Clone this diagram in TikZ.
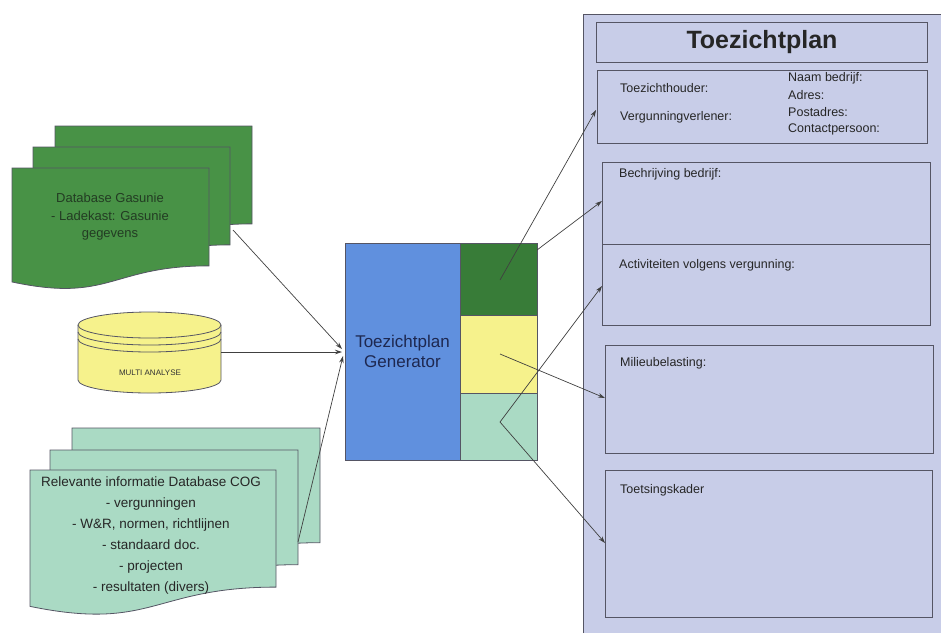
\documentclass[tikz,border=0pt]{standalone}
\usepackage{fontspec}
\setmainfont{Liberation Sans}
\usetikzlibrary{arrows.meta}
\definecolor{gasgreen}{RGB}{72,146,70}
\definecolor{darkstrip}{RGB}{56,124,56}
\definecolor{cogteal}{RGB}{170,218,196}
\definecolor{cylyellow}{RGB}{246,242,140}
\definecolor{genblue}{RGB}{96,144,222}
\definecolor{panelfill}{RGB}{200,205,232}
\definecolor{boxline}{RGB}{85,85,100}
\definecolor{gentext}{RGB}{30,40,80}
\definecolor{sheettext}{RGB}{35,60,35}
\newcommand\docsheet[5]{%
  \path[draw=boxline,line width=0.8pt,fill=#5] (#1,#2) -- ++(#3,0) -- ++(0,0.802*#4)
    .. controls ({#1+0.5*#3},{#2+0.802*#4}) and ({#1+0.5*#3},{#2+1.107*#4}) .. ({#1},{#2+0.934*#4}) -- cycle;}
\tikzset{
  conn/.style={draw=black!75,line width=0.7pt,-{Stealth[length=7pt,width=4.5pt]}},
  pbox/.style={draw=boxline,line width=0.9pt},
  lbl/.style={anchor=west,inner sep=0pt,font=\fontsize{12.5}{14}\selectfont,text=black!85},
}
\begin{document}
\begin{tikzpicture}[x=1pt,y=-1pt]
\useasboundingbox (0,0) rectangle (941,633);
% right panel
\fill[panelfill] (583,14) rectangle (941,633);
\draw[boxline,line width=0.8pt] (583,633) -- (583,14) -- (941,14);
\node[pbox,minimum width=331pt,minimum height=40pt,inner sep=0pt,font=\fontsize{25}{28}\bfseries,text=black!85] (title) at (762,42) {Toezichtplan};
\node[pbox,minimum width=330pt,minimum height=73pt,inner sep=0pt] (info) at (762,106.5) {};
\node[lbl] (th) at (620,88) {Toezichthouder:};
\node[lbl] (vv) at (620,117) {Vergunningverlener:};
\node[lbl] (nb) at (788,78) {Naam bedrijf:};
\node[lbl] (ad) at (788,95) {Adres:};
\node[lbl] (pa) at (788,112) {Postadres:};
\node[lbl] (cp) at (788,129) {Contactpersoon:};
\node[pbox,minimum width=328pt,minimum height=82pt,inner sep=0pt] (bb) at (766,203) {};
\node[pbox,minimum width=328pt,minimum height=81pt,inner sep=0pt] (act) at (766,284.5) {};
\node[lbl] (bbt) at (619,174) {Bechrijving bedrijf:};
\node[lbl] (actt) at (619,265) {Activiteiten volgens vergunning:};
\node[pbox,minimum width=328pt,minimum height=108pt,inner sep=0pt] (mil) at (769,399) {};
\node[lbl] (milt) at (620,363) {Milieubelasting:};
\node[pbox,minimum width=327pt,minimum height=147pt,inner sep=0pt] (toe) at (768.5,543.5) {};
\node[lbl] (toet) at (620,490) {Toetsingskader};
% generator
\node[draw=boxline,line width=0.6pt,fill=genblue,minimum width=115pt,minimum height=217pt,inner sep=0pt,align=center,font=\fontsize{17}{20}\selectfont,text=gentext] (gen) at (402.5,351.5) {Toezichtplan\\Generator};
\node[draw=boxline,line width=0.6pt,fill=darkstrip,minimum width=77pt,minimum height=72pt,inner sep=0pt] (s1) at (498.5,279) {};
\node[draw=boxline,line width=0.6pt,fill=cylyellow,minimum width=77pt,minimum height=78pt,inner sep=0pt] (s2) at (498.5,354) {};
\node[draw=boxline,line width=0.6pt,fill=cogteal,minimum width=77pt,minimum height=67pt,inner sep=0pt] (s3) at (498.5,426.5) {};
% green stack
\docsheet{55}{126}{197}{122}{gasgreen}
\docsheet{33}{147}{197}{122}{gasgreen}
\docsheet{12}{168}{197}{122}{gasgreen}
\node[align=center,font=\fontsize{13}{17.5}\selectfont,text=sheettext] (gas) at (110,217) {Database Gasunie\\- Ladekast: Gasunie\\gegevens};
% cylinder
\path[draw=boxline,line width=0.8pt,fill=cylyellow] (78,325) -- (78,380) arc[start angle=180,end angle=0,x radius=71.5,y radius=13] -- (221,325) arc[start angle=0,end angle=-180,x radius=71.5,y radius=13] -- cycle;
\draw[boxline,line width=0.8pt] (78,325) arc[start angle=180,end angle=0,x radius=71.5,y radius=13];
\draw[boxline,line width=0.8pt] (78,332) arc[start angle=180,end angle=0,x radius=71.5,y radius=13];
\draw[boxline,line width=0.8pt] (78,339) arc[start angle=180,end angle=0,x radius=71.5,y radius=13];
\node[font=\fontsize{8}{9}\selectfont,text=black!80] (cyl) at (150,373) {MULTI ANALYSE};
\coordinate (cylr) at (221,352);
% teal stack
\docsheet{72}{428}{248}{143}{cogteal}
\docsheet{50}{450}{248}{143}{cogteal}
\docsheet{30}{470}{246}{146}{cogteal}
\node[align=center,font=\fontsize{13.5}{21}\selectfont,text=black!85] (cog) at (151,535) {Relevante informatie Database COG\\- vergunningen\\- W\&R, normen, richtlijnen\\- standaard doc.\\- projecten\\- resultaten (divers)};
% connectors left
\coordinate (gasout) at (233,230);
\coordinate (cogout) at (298,542);
\coordinate (gin1) at (342,349);
\coordinate (gin2) at (342,352);
\coordinate (gin3) at (343,356);
\draw[conn] (gasout) -- (gin1);
\draw[conn] (cylr) -- (gin2);
\draw[conn] (cogout) -- (gin3);
% connectors right
\coordinate (p1) at (500,280);
\coordinate (p2) at (537,250);
\coordinate (p3) at (500,354);
\coordinate (p4) at (500,422);
\coordinate (e1) at (596,110);
\coordinate (e2) at (602,201);
\coordinate (e3) at (602,286);
\coordinate (e4) at (605,398);
\coordinate (e5) at (605,543);
\draw[conn] (p1) -- (e1);
\draw[conn] (p2) -- (e2);
\draw[conn] (p4) -- (e3);
\draw[conn] (p3) -- (e4);
\draw[conn] (p4) -- (e5);
\end{tikzpicture}
\end{document}
